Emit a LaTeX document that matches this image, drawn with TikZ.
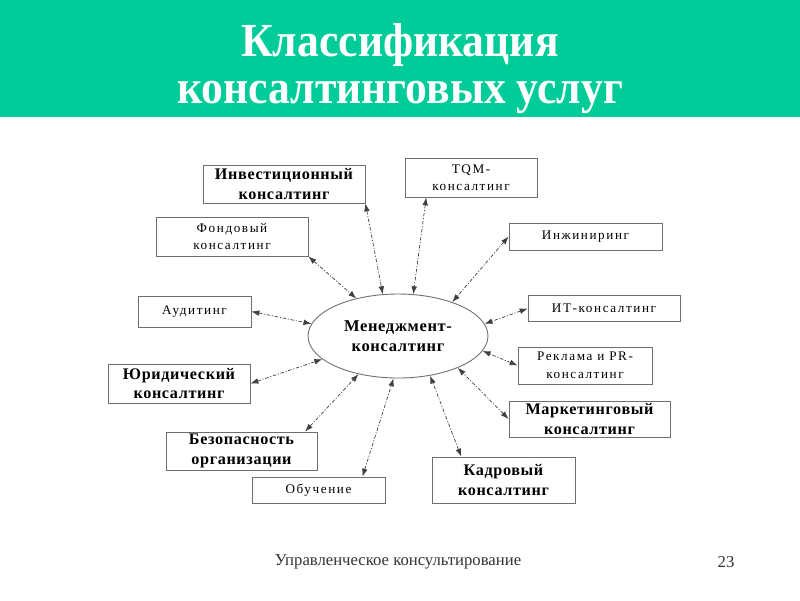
\documentclass[tikz,border=0pt]{standalone}
\usepackage{fontspec}
\setmainfont{Liberation Serif}
\newfontfamily\lightfont[LetterSpace=12]{Liberation Serif}
\newfontfamily\heavyfont[LetterSpace=4]{Liberation Serif}
\newfontfamily\titlefont[FakeStretch=0.92]{Liberation Serif}
\usetikzlibrary{arrows.meta, shapes.geometric}
\usepackage{xcolor}
\definecolor{tgreen}{RGB}{0,204,153}
\definecolor{frame}{RGB}{110,110,110}

\begin{document}
\begin{tikzpicture}[
  x=0.02cm, y=-0.02cm,
  box/.style={draw=frame,line width=0.5pt,fill=white,align=center,inner sep=1pt},
  heavy/.style={box,font=\heavyfont\bfseries\fontsize{9.2}{11}\selectfont},
  light/.style={box,font=\lightfont\fontsize{7.5}{10}\selectfont},
  link/.style={{Latex[length=4.5pt,width=3.2pt]}-{Latex[length=4.5pt,width=3.2pt]},
               black!75,line width=0.4pt,dash pattern=on 2pt off 1pt on 0.6pt off 1pt},
]
\useasboundingbox (0,0) rectangle (800,600);
\fill[white] (0,0) rectangle (800,600);
\fill[tgreen] (0,0) rectangle (800,117);

\node[white,align=center,font=\titlefont\bfseries\fontsize{27}{27}\selectfont] (title) at (400,68.5)
  {Классификация\\консалтинговых услуг};

\node[ellipse,draw=frame,line width=0.5pt,minimum width=3.6cm,minimum height=1.68cm,
      inner sep=0pt,align=center,font=\heavyfont\bfseries\fontsize{9.4}{11.5}\selectfont]
  (mgmt) at (398,336) {Менеджмент-\\консалтинг};

\node[heavy,minimum width=3.24cm,minimum height=0.76cm] (inv) at (284,184)
  {Инвестиционный\\консалтинг};
\node[light,minimum width=2.64cm,minimum height=0.78cm] (tqm) at (471,177.5)
  {TQM-\\консалтинг};
\node[light,minimum width=3.04cm,minimum height=0.78cm] (fond) at (232,236.5)
  {Фондовый\\консалтинг};
\node[light,minimum width=3.06cm,minimum height=0.54cm] (inzh) at (585.5,236.5)
  {Инжиниринг};
\node[light,minimum width=2.26cm,minimum height=0.62cm] (audit) at (194.5,311.5)
  {Аудитинг};
\node[light,minimum width=3.04cm,minimum height=0.52cm] (itc) at (604,308.5)
  {ИТ-консалтинг};
\node[heavy,minimum width=2.84cm,minimum height=0.78cm] (jur) at (179,383.5)
  {Юридический\\консалтинг};
\node[light,minimum width=2.68cm,minimum height=0.74cm] (pr) at (585,365.5)
  {Реклама и PR-\\консалтинг};
\node[heavy,minimum width=3.22cm,minimum height=0.72cm] (mark) at (589.5,419)
  {Маркетинговый\\консалтинг};
\node[heavy,minimum width=3.02cm,minimum height=0.76cm] (safe) at (241.5,451)
  {Безопасность\\организации};
\node[light,minimum width=2.66cm,minimum height=0.52cm] (edu) at (318.5,490)
  {Обучение};
\node[heavy,minimum width=2.86cm,minimum height=0.92cm] (hr) at (503.5,480)
  {Кадровый\\консалтинг};

\draw[link] (inv.south east) -- (mgmt.110);
\draw[link] (tqm.204) -- (mgmt.70);
\draw[link] (fond.south east) -- (mgmt.138);
\draw[link] (inzh.west) -- (mgmt.32);
\draw[link] (audit.east) -- (mgmt.172);
\draw[link] (itc.west) -- (mgmt.8);
\draw[link] (jur.east) -- (mgmt.197);
\draw[link] (pr.west) -- (mgmt.-10);
\draw[link] (mark.west) -- (mgmt.-28);
\draw[link] (safe.17) -- (mgmt.224);
\draw[link] (edu.17) -- (mgmt.264);
\draw[link] (hr.151) -- (mgmt.-51);

\node[black!80,font=\fontsize{9.5}{11}\selectfont] (foot) at (398,562)
  {Управленческое консультирование};
\node[black!80,font=\fontsize{9.5}{11}\selectfont] (page) at (726,562) {23};
\end{tikzpicture}
\end{document}
